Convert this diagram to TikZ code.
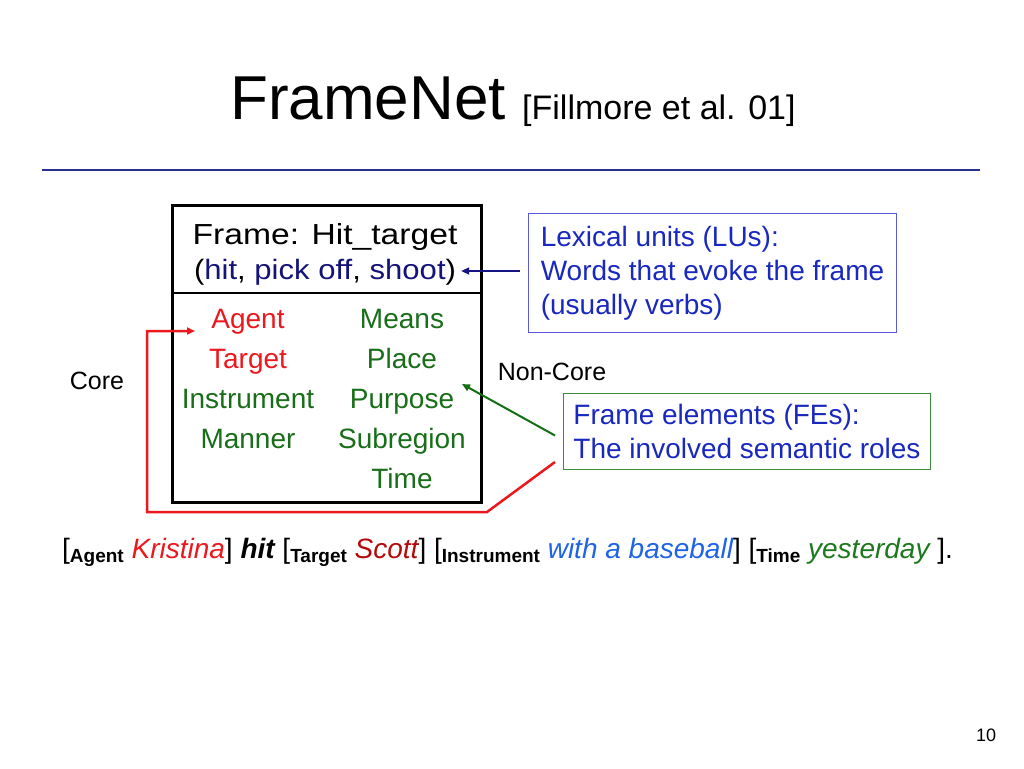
\documentclass[tikz,border=0pt]{standalone}
\usepackage{fontspec}
\setmainfont{Liberation Sans}
\usetikzlibrary{arrows.meta}
\definecolor{rulecol}{RGB}{40,48,150}
\definecolor{fegreen}{RGB}{25,110,25}
\definecolor{corered}{RGB}{235,25,30}
\definecolor{lunavy}{RGB}{20,20,120}
\definecolor{boxtext}{RGB}{25,40,190}
\definecolor{luborder}{RGB}{90,90,220}
\definecolor{feborder}{RGB}{60,140,60}
\definecolor{arrblue}{RGB}{20,20,130}
\definecolor{arrgreen}{RGB}{20,110,20}
\definecolor{scottred}{RGB}{180,10,10}
\definecolor{ballblue}{RGB}{30,100,230}
\definecolor{yestgreen}{RGB}{30,120,30}
\newcommand{\fnsub}[1]{\raisebox{-4pt}{\fontsize{19}{21}\selectfont\bfseries #1}}
\begin{document}
\begin{tikzpicture}[x=1pt,y=-1pt,
  txt/.style={inner sep=0pt, font=\fontsize{28}{34}\selectfont},
  felem/.style={txt, anchor=base, text=fegreen},
  coreelem/.style={txt, anchor=base, text=corered},
  small/.style={inner sep=0pt, font=\fontsize{25}{29}\selectfont, anchor=base},
  infobox/.style={draw, line width=1pt, align=left, text=boxtext, inner sep=0pt, anchor=north west, font=\fontsize{28}{34}\selectfont},
  tipstyle/.style={-{Triangle[length=8pt,width=7pt]}},
]
\useasboundingbox[fill=white] (0,0) rectangle (1024,768);

% title
\node[inner sep=0pt, anchor=base west, font=\fontsize{62}{70}\selectfont] (title) at (230,119) {FrameNet};
\node[inner sep=0pt, anchor=base west, font=\fontsize{34}{40}\selectfont] (cite) at (522,119) {[Fillmore et al. 01]};
\coordinate (ruleL) at (42,170);
\coordinate (ruleR) at (980,170);
\draw[rulecol, line width=2.5pt] (ruleL) -- (ruleR);

% frame box
\node[draw, line width=3pt, minimum width=309pt, minimum height=297pt, anchor=north west, inner sep=0pt] (frame) at (171,204) {};
\coordinate (sepL) at (171,293);
\coordinate (sepR) at (480,293);
\draw[line width=1.5pt] (sepL) -- (sepR);
\node[txt, anchor=base] (ftitle) at (325,244) {\fontsize{29}{34}\selectfont\scalebox{1.16}[1]{Frame: Hit\_target}};
\node[txt, anchor=base] (lus) at (325,279) {\scalebox{1.11}[1]{(\textcolor{lunavy}{hit}, \textcolor{lunavy}{pick off}, \textcolor{lunavy}{shoot})}};

\node[coreelem] (agent) at (248,328) {Agent};
\node[coreelem] (target) at (248,368) {Target};
\node[felem] (instrument) at (248,408) {Instrument};
\node[felem] (manner) at (248,448) {Manner};
\node[felem] (means) at (402,328) {Means};
\node[felem] (place) at (402,368) {Place};
\node[felem] (purpose) at (402,408) {Purpose};
\node[felem] (subregion) at (402,448) {Subregion};
\node[felem] (time) at (402,488) {Time};

\node[small] (core) at (97,389) {Core};
\node[small] (noncore) at (552,380) {Non-Core};

% info boxes
\node[infobox, draw=luborder, minimum width=368pt, minimum height=119pt] (lu) at (528,213)
  {Lexical units (LUs):\\Words that evoke the frame\\(usually verbs)};
\node[infobox, draw=feborder, minimum width=367pt, minimum height=76pt] (fe) at (563,393)
  {Frame elements (FEs):\\The involved semantic roles};

% connectors
\coordinate (lustart) at ([shift={(-8,-2)}]lu.west);
\coordinate (lutip) at ([shift={(5,0)}]lus.east);
\draw[arrblue, line width=2pt, tipstyle] (lustart) -- (lustart -| lutip);

\coordinate (festart) at ([shift={(-8,4)}]fe.west);
\coordinate (fetip) at (462,384);
\draw[arrgreen, line width=2pt, tipstyle] (festart) -- (fetip);

\coordinate (redstart) at ([shift={(-8,-8)}]fe.south west);
\coordinate (agenttip) at (195,331);
\draw[corered, line width=2.5pt, tipstyle] (redstart) -- (487,512) -- (147,512) |- (agenttip);

% sentence
\node[inner sep=0pt, anchor=base west, font=\fontsize{28}{34}\selectfont] (sent) at (62,558)
  {[\fnsub{Agent} \textcolor{corered}{\itshape Kristina}] {\bfseries\itshape hit} [\fnsub{Target} \textcolor{scottred}{\itshape Scott}] [\fnsub{Instrument} \textcolor{ballblue}{\itshape with a baseball}] [\fnsub{Time} \textcolor{yestgreen}{\itshape yesterday} ].};

\node[inner sep=0pt, anchor=base, font=\fontsize{18}{20}\selectfont] (pagenum) at (986,741) {10};
\end{tikzpicture}
\end{document}
